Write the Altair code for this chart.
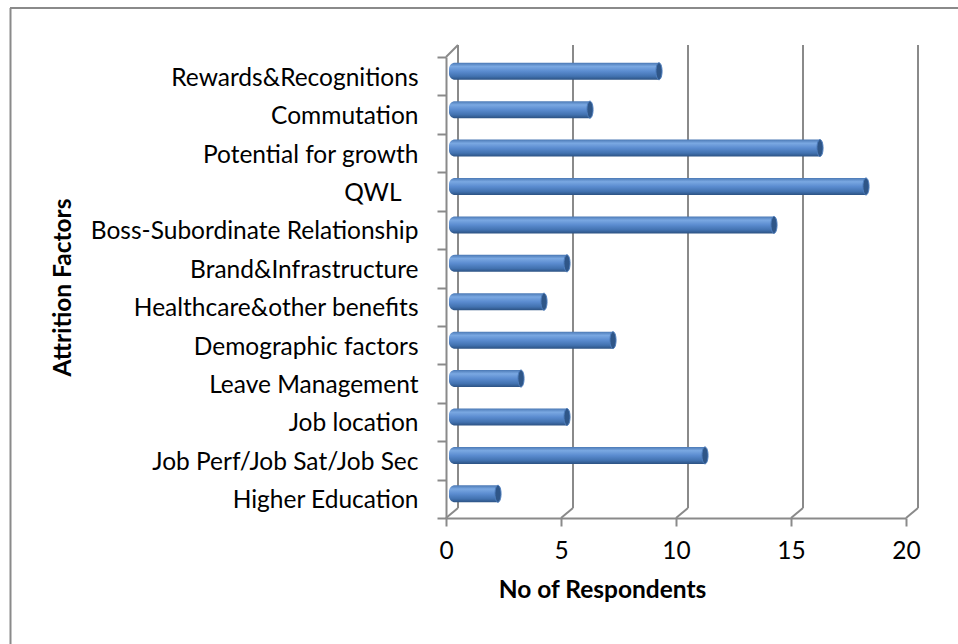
import altair as alt
import pandas as pd

categories = [
    "Rewards&Recognitions",
    "Commutation",
    "Potential for growth",
    "QWL",
    "Boss-Subordinate Relationship",
    "Brand&Infrastructure",
    "Healthcare&other benefits",
    "Demographic factors",
    "Leave Management",
    "Job location",
    "Job Perf/Job Sat/Job Sec",
    "Higher Education",
]
respondents = [9, 6, 16, 18, 14, 5, 4, 7, 3, 5, 11, 2]
x_ticks = [0, 5, 10, 15, 20]

df = pd.DataFrame({"factor": categories, "n": respondents})
ticks = pd.DataFrame({"t": x_ticks})

FONT = "Lato"
FS = 24.5
GRID = "#8a8a8a"
W, H = 958, 644

xs = alt.Scale(domain=[0, 20], range=[446, 906], nice=False, zero=True)
ys = alt.Scale(domain=categories, range=[57, 518], paddingInner=0, paddingOuter=0)

x_axis = alt.Axis(
    orient="bottom", offset=-126, values=x_ticks, grid=False, labelFlush=False,
    domainColor=GRID, domainWidth=2, tickColor=GRID, tickWidth=2, tickSize=8,
    labelFont=FONT, labelFontSize=FS, labelColor="#000000", labelPadding=13,
    title="No of Respondents", titleFont=FONT, titleFontSize=FS, titleFontWeight="bold",
    titleColor="#000000", titleX=602, titleY=72, titleBaseline="middle", titleAnchor="middle",
)
y_axis = alt.Axis(
    orient="left", offset=-446, grid=False, tickBand="extent",
    domainColor=GRID, domainWidth=2, tickColor=GRID, tickWidth=2, tickSize=9,
    labelFont=FONT, labelFontSize=FS, labelColor="#000000",
    labelPadding={"condition": {"test": "datum.value === 'QWL'", "value": 36}, "value": 19},
    labelOffset=2,
    labelLimit=420,
    title="Attrition Factors", titleFont=FONT, titleFontSize=FS, titleFontWeight="bold",
    titleColor="#000000", titleX=-383, titleY=287, titleAngle=-90,
    titleBaseline="middle", titleAlign="center",
)

frame = alt.Chart(alt.Data(values=[{"a": 1}])).mark_rule(color=GRID, strokeWidth=2)
frame_top = frame.encode(x=alt.value(10), x2=alt.value(W), y=alt.value(8), y2=alt.value(8))
frame_left = frame.encode(x=alt.value(10.5), x2=alt.value(10.5), y=alt.value(8), y2=alt.value(H))

back_grid = alt.Chart(ticks).mark_rule(color=GRID, strokeWidth=2, xOffset=12).encode(
    x=alt.X("t:Q", scale=xs, axis=x_axis),
    y=alt.value(45), y2=alt.value(508),
)
slants = alt.Chart(ticks).mark_rule(color=GRID, strokeWidth=2, xOffset=12, x2Offset=0).encode(
    x=alt.X("t:Q", scale=xs, axis=x_axis), x2="t:Q",
    y=alt.value(508), y2=alt.value(518),
)
wall_top = alt.Chart(ticks).transform_filter("datum.t == 0").mark_rule(
    color=GRID, strokeWidth=2, xOffset=0, x2Offset=12
).encode(
    x=alt.X("t:Q", scale=xs, axis=x_axis), x2="t:Q",
    y=alt.value(57), y2=alt.value(45),
)

grad = alt.Gradient(
    gradient="linear", x1=0, y1=0, x2=0, y2=1,
    stops=[
        alt.GradientStop(color="#4a78b4", offset=0),
        alt.GradientStop(color="#7aa8e2", offset=0.22),
        alt.GradientStop(color="#5b8cd0", offset=0.5),
        alt.GradientStop(color="#4272b0", offset=0.8),
        alt.GradientStop(color="#2c5283", offset=1),
    ],
)

bars = alt.Chart(df).transform_calculate(zero="0").mark_bar(
    size=17, yOffset=-5, xOffset=3, x2Offset=6,
    cornerRadiusTopLeft=6, cornerRadiusBottomLeft=6, color=grad,
).encode(
    x=alt.X("zero:Q", scale=xs, axis=x_axis),
    x2="n:Q",
    y=alt.Y("factor:N", sort=categories, scale=ys, axis=y_axis),
)

ellipse = "M0,-1A0.36,1,0,1,1,0,1A0.36,1,0,1,1,0,-1Z"
caps = alt.Chart(df).mark_point(
    shape=ellipse, filled=True, size=289, xOffset=6, yOffset=-5,
    fill="#2f5688", stroke="#4f7fbf", strokeWidth=1, opacity=1,
).encode(
    x=alt.X("n:Q", scale=xs, axis=x_axis),
    y=alt.Y("factor:N", sort=categories, scale=ys, axis=y_axis),
)

chart = alt.layer(
    frame_top, frame_left, back_grid, slants, wall_top, bars, caps
).properties(
    width=W, height=H, autosize=alt.AutoSizeParams(type="none"),
    padding=0, background="#ffffff",
).configure_view(stroke=None)

chart.save("out.html", embed_options={"renderer": "svg", "actions": False})
